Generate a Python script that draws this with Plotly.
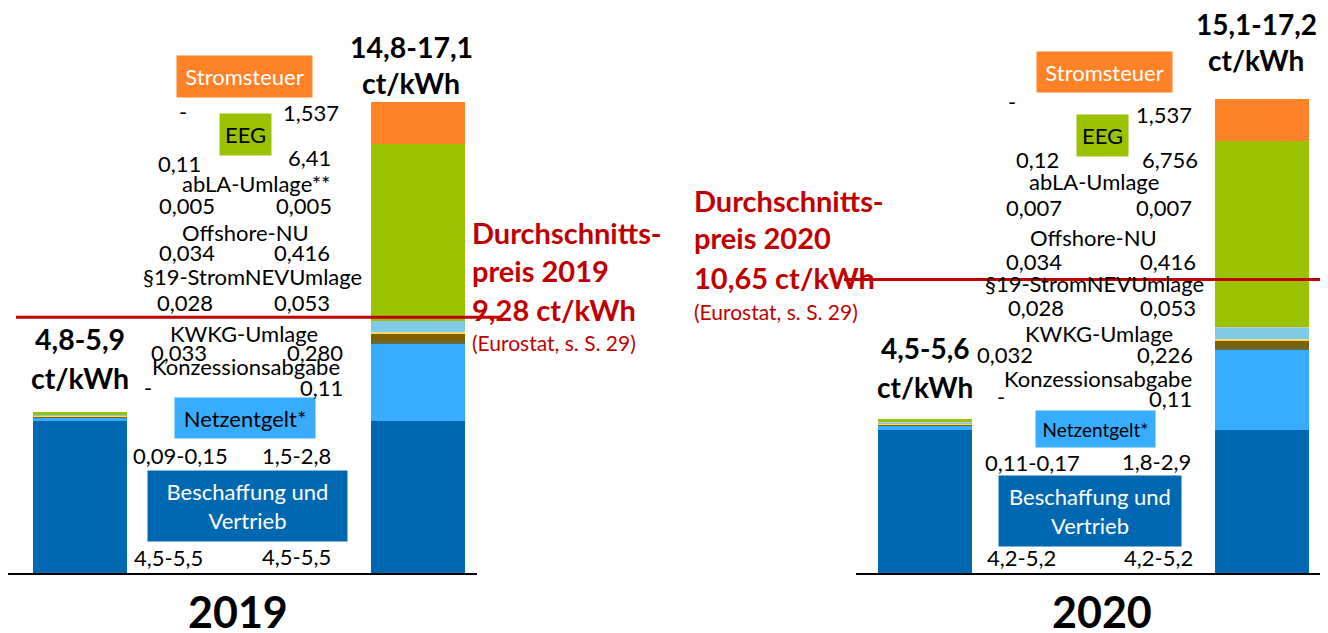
import plotly.graph_objects as go

# ---- data -------------------------------------------------------------
components = [
    "Beschaffung und Vertrieb", "Netzentgelt*", "Konzessionsabgabe", "KWKG-Umlage",
    "§19-StromNEVUmlage", "Offshore-NU", "abLA-Umlage**", "EEG", "Stromsteuer",
]
bar_names = ["min", "max"]

# bar heights in ct/kWh (upper end of each range)
low_2019 = [5.5, 0.15, 0.0, 0.033, 0.028, 0.034, 0.005, 0.11, 0.0]
high_2019 = [5.5, 2.8, 0.11, 0.280, 0.053, 0.416, 0.005, 6.41, 1.537]
low_2020 = [5.2, 0.17, 0.0, 0.032, 0.028, 0.034, 0.007, 0.12, 0.0]
high_2020 = [5.2, 2.9, 0.11, 0.226, 0.053, 0.416, 0.007, 6.756, 1.537]

# value labels
left_labels_2019 = ["4,5-5,5", "0,09-0,15", "-", "0,033", "0,028", "0,034", "0,005", "0,11", "-"]
right_labels_2019 = ["4,5-5,5", "1,5-2,8", "0,11", "0,280", "0,053", "0,416", "0,005", "6,41", "1,537"]
left_labels_2020 = ["4,2-5,2", "0,11-0,17", "-", "0,032", "0,028", "0,034", "0,007", "0,12", "-"]
right_labels_2020 = ["4,2-5,2", "1,8-2,9", "0,11", "0,226", "0,053", "0,416", "0,007", "6,756", "1,537"]
names_2020 = components[:6] + ["abLA-Umlage"] + components[7:]

totals_2019 = ["4,8-5,9", "14,8-17,1"]
totals_2020 = ["4,5-5,6", "15,1-17,2"]
avg_price = {"2019": 9.28, "2020": 10.65}
avg_text = {"2019": "9,28 ct/kWh", "2020": "10,65 ct/kWh"}

colors = ["#0068B0", "#38ADFF", "#636B3F", "#7F6000", "#FFD966",
          "#80CCE8", "#C9C9C9", "#9BC200", "#FF8226"]
boxed = {0: "#0068B0", 1: "#38ADFF", 7: "#9BC200", 8: "#FF8226"}
RED = "#C00000"
FONT = "Lato"

# page body has an 8px margin, so the figure starts at (8, 8) in the window
OFF = 8
W, H = 1328 - OFF, 633 - OFF
BASE = 573          # axis line, window pixels
PLOT_H = BASE - OFF


def px(x):
    return (x - OFF) / W


def py(y):
    return (BASE - y) / PLOT_H


fig = go.Figure()
for year, lows, highs, xa in [("2019", low_2019, high_2019, "x"), ("2020", low_2020, high_2020, "x2")]:
    for i, comp in enumerate(components):
        fig.add_trace(go.Bar(
            x=bar_names, y=[lows[i], highs[i]], name=comp, xaxis=xa, yaxis="y",
            marker=dict(color=colors[i], line=dict(width=0)), width=0.278,
            showlegend=False,
        ))

# ---- annotations -------------------------------------------------------
ann = []


def txt(x, y, text, size=22, color="black", bold=False, xanchor="center", **kw):
    ann.append(dict(
        x=px(x), y=py(y), xref="paper", yref="paper", text=f"<b>{text}</b>" if bold else text,
        showarrow=False, xanchor=xanchor, yanchor="middle",
        font=dict(family=FONT, size=size, color=color), **kw,
    ))


# per component: name (x, y), left label (x, y), right label (x, y), box (w, h)
pos_2019 = [
    ((247.5, 506), (168, 557), (296, 556), (199, 70)),
    ((245, 418), (180, 455), (296, 455), (140, 40)),
    ((246, 367), (148, 388), (321, 387), None),
    ((244, 333), (179, 352), (315, 352), None),
    ((252, 276), (185, 302), (302, 302), None),
    ((245, 232), (187, 252), (302, 252), None),
    ((256, 183), (187, 206), (304, 206), None),
    ((245.5, 134.5), (179, 163), (309, 158), (51, 41)),
    ((244.5, 76.5), (183, 111), (311, 112), (135, 41)),
]
pos_2020 = [
    ((1090, 511), (1021, 557), (1158, 557), (182, 70)),
    ((1095.5, 429), (1032, 462), (1156, 461), (119, 36)),
    ((1098, 378), (1001, 396), (1170, 399), None),
    ((1099, 333), (1005, 354), (1165, 354), None),
    ((1094, 283), (1036, 307), (1168, 307), None),
    ((1093, 238), (1034, 261), (1168, 261), None),
    ((1094, 182), (1034, 207), (1164, 207), None),
    ((1102.5, 135.5), (1037, 159), (1170, 159), (51, 41)),
    ((1104.5, 72), (1012, 102), (1164, 115), (135, 40)),
]

for names, lefts, rights, pos in [
    (components, left_labels_2019, right_labels_2019, pos_2019),
    (names_2020, left_labels_2020, right_labels_2020, pos_2020),
]:
    for i, name in enumerate(names):
        (nx, ny), (lx, ly), (rx, ry), box = pos[i]
        if box:
            label = "Beschaffung und<br>Vertrieb" if i == 0 else name
            fc = "white" if i in (0, 8) else "black"
            size = 19 if (i == 1 and box[0] < 130) else 22
            txt(nx, ny, label, size=size, color=fc, bgcolor=boxed[i], width=box[0],
                height=box[1], borderpad=0, align="center")
        else:
            txt(nx, ny, name)
        txt(lx, ly, lefts[i])
        txt(rx, ry, rights[i])

# totals above bars
for (x, y1, y2), t in zip([(80, 339, 378), (411, 47, 83)], totals_2019):
    txt(x, y1, t, size=28.5, bold=True)
    txt(x, y2, "ct/kWh", size=28.5, bold=True)
for (x, y1, y2), t in zip([(925, 348, 387), (1256, 24, 60)], totals_2020):
    txt(x, y1, t, size=28, bold=True)
    txt(x, y2, "ct/kWh", size=28, bold=True)

# year labels
txt(238, 611, "2019", size=43, bold=True)
txt(1102, 611, "2020", size=43, bold=True)

# average price text
for year, x, ys in [("2019", 470, (233, 270, 309, 342)), ("2020", 692, (200, 238, 277, 311))]:
    txt(x, ys[0], "Durchschnitts-", size=29, color=RED, bold=True, xanchor="left")
    txt(x, ys[1], f"preis {year}", size=29, color=RED, bold=True, xanchor="left")
    txt(x, ys[2], avg_text[year], size=29, color=RED, bold=True, xanchor="left")
    txt(x, ys[3], "(Eurostat, s. S. 29)", size=21, color=RED, xanchor="left")

# average price lines
shapes = [
    dict(type="line", xref="paper", yref="y", x0=px(16), x1=px(502),
         y0=avg_price["2019"], y1=avg_price["2019"], line=dict(color=RED, width=3)),
    dict(type="line", xref="paper", yref="y", x0=px(844), x1=1,
         y0=avg_price["2020"], y1=avg_price["2020"], line=dict(color=RED, width=3)),
]

axis_common = dict(showline=True, linecolor="black", linewidth=2, ticks="",
                   showticklabels=False, showgrid=False, zeroline=False, anchor="y")
fig.update_layout(
    width=W, height=H,
    margin=dict(l=0, r=0, t=0, b=H - PLOT_H),
    barmode="stack", bargap=0,
    plot_bgcolor="white", paper_bgcolor="white",
    xaxis=dict(domain=[px(8), px(477)], range=[-0.213, 1.175], **axis_common),
    xaxis2=dict(domain=[px(856), px(1325)], range=[-0.205, 1.187], **axis_common),
    yaxis=dict(range=[0, PLOT_H / 27.55], visible=False),
    annotations=ann, shapes=shapes,
    font=dict(family=FONT),
)

fig.write_html("out.html")
